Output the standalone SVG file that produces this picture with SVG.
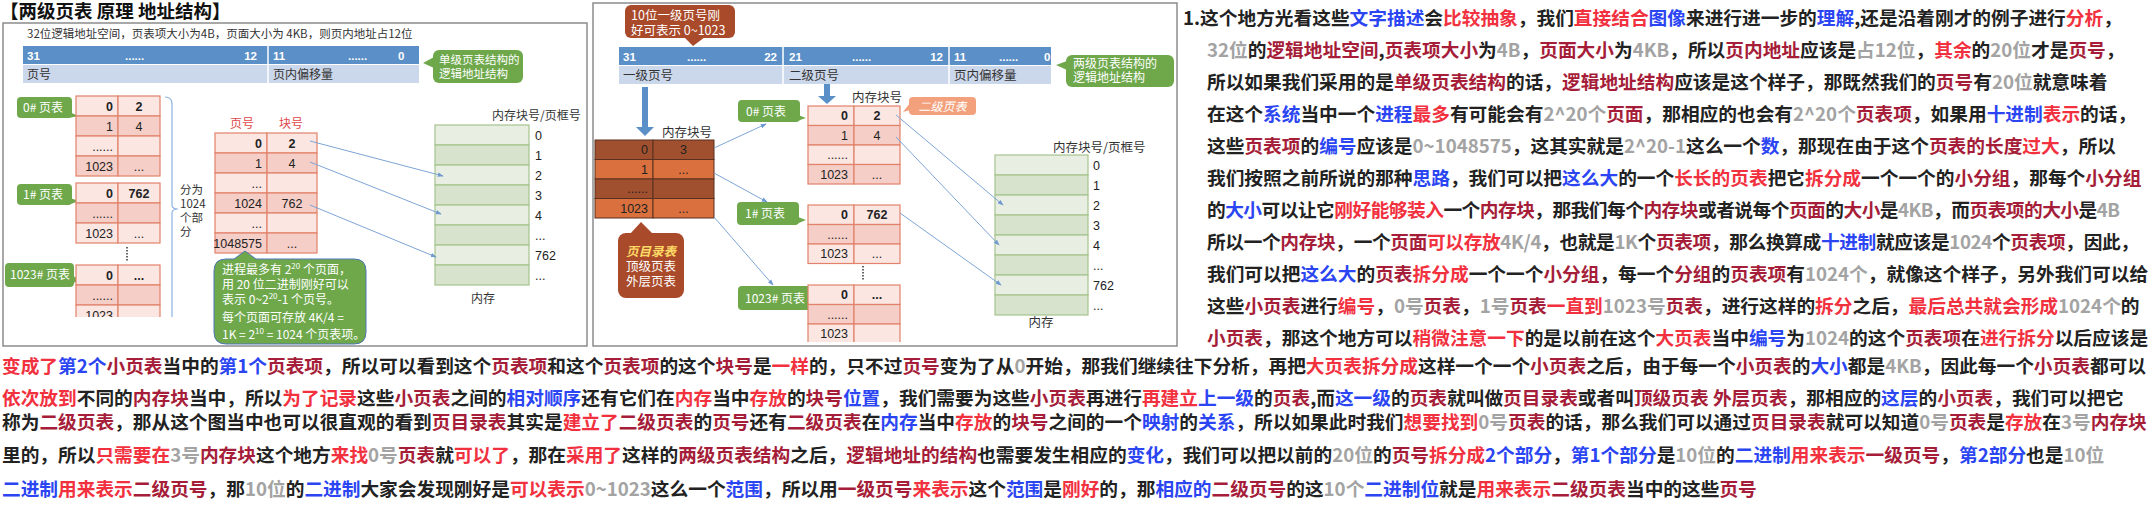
<svg xmlns="http://www.w3.org/2000/svg" width="2152" height="509" viewBox="0 0 2152 509">
<style>
.t{font-family:"Noto Sans CJK SC","Noto Sans",sans-serif;font-size:18.7px;font-weight:700;fill:#222}
.r{fill:#a51d38}.R{fill:#f2313f}.b{fill:#2b45f2}.g{fill:#a3a3a3}
.d{font-family:"Noto Sans CJK SC","Noto Sans",sans-serif;font-size:12px;fill:#333}
.w{fill:#fff}
.n{font-family:"Liberation Sans","Noto Sans CJK SC",sans-serif;font-size:12.5px;fill:#222}
.nb{font-weight:700}
.bt{font-family:"Liberation Sans",sans-serif;font-size:11.5px;font-weight:700;fill:#fff}
.bar{fill:#5b8fc7}.row{fill:#cbd7ea}
.pk1{fill:#fbe6e2;stroke:#e2826a;stroke-width:1.2}.pk2{fill:#f4cec7;stroke:#e2826a;stroke-width:1.2}
.gm1{fill:#e8eee1;stroke:#a6c48e;stroke-width:1.2}.gm2{fill:#d7e3cc;stroke:#a6c48e;stroke-width:1.2}
.br1{fill:#a0502e;stroke:#5a3020}.br2{fill:#d9703e;stroke:#5a3020}
.cg{fill:#6ea84b}.cb{fill:#a94a2a}
.ln{stroke:#7ea5d6;stroke-width:1;fill:none;marker-end:url(#ah)}
.blk{fill:#5b8fc7}
</style>
<defs>
<marker id="ah" viewBox="0 0 8 8" refX="7" refY="4" markerWidth="6" markerHeight="6" orient="auto"><path d="M0,1 L8,4 L0,7 Z" fill="#6f99cf"/></marker>
<clipPath id="clipL"><rect x="0" y="0" width="590" height="317"/></clipPath>
<clipPath id="clipM"><rect x="590" y="0" width="600" height="342"/></clipPath>
</defs>
<rect width="2152" height="509" fill="#fff"/>

<!-- LEFT PANEL -->
<g id="left-panel">
<text x="0" y="18" style="font-family:'Noto Sans CJK SC',sans-serif;font-size:18.5px;font-weight:700;fill:#111">【两级页表 原理 地址结构】</text>
<rect x="3" y="23" width="584" height="323" fill="#fff" stroke="#8c8c8c" stroke-width="1.5"/>
<text class="d" x="27" y="37.5" style="font-size:11.5px">32位逻辑地址空间，页表项大小为4B，页面大小为 4KB，则页内地址占12位</text>
</g>

<g id="left-address">
<rect class="bar" x="23" y="46" width="396" height="18"/>
<rect class="row" x="23" y="65" width="396" height="18"/>
<line x1="268" y1="46" x2="268" y2="83" stroke="#fff" stroke-width="1.5"/>
<text class="bt" x="27" y="59.5">31</text>
<text class="bt" x="125" y="59.5">......</text>
<text class="bt" x="257" y="59.5" text-anchor="end">12</text>
<text class="bt" x="273" y="59.5">11</text>
<text class="bt" x="348" y="59.5">......</text>
<text class="bt" x="398" y="59.5">0</text>
<text class="d" x="27" y="78.5">页号</text>
<text class="d" x="273" y="78.5">页内偏移量</text>
</g>

<g id="left-callout-single">
<rect class="cg" x="433" y="50" width="90" height="33" rx="6"/>
<polygon class="cg" points="434,57 423,63 434,68"/>
<text class="d w" x="439" y="63.5" style="font-size:11.5px">单级页表结构的</text>
<text class="d w" x="439" y="78" style="font-size:11.5px">逻辑地址结构</text>
</g>

<g id="left-pt0-label">
<rect class="cg" x="17" y="97" width="55" height="21" rx="4"/>
<polygon class="cg" points="64,110 79,116 68,118"/>
<text class="d w" x="23" y="111.5">0# 页表</text>
</g>
<g id="left-pt0">
<rect class="pk1" x="76" y="96" width="42" height="20"/><rect class="pk1" x="118" y="96" width="42" height="20"/>
<rect class="pk2" x="76" y="116" width="42" height="20"/><rect class="pk2" x="118" y="116" width="42" height="20"/>
<rect class="pk1" x="76" y="136" width="42" height="20"/><rect class="pk1" x="118" y="136" width="42" height="20"/>
<rect class="pk2" x="76" y="156" width="42" height="20"/><rect class="pk2" x="118" y="156" width="42" height="20"/>
<text class="n nb" x="113" y="110.5" text-anchor="end">0</text><text class="n nb" x="139" y="110.5" text-anchor="middle">2</text>
<text class="n" x="113" y="130.5" text-anchor="end">1</text><text class="n" x="139" y="130.5" text-anchor="middle">4</text>
<text class="n" x="113" y="150.5" text-anchor="end">......</text>
<text class="n" x="113" y="170.5" text-anchor="end">1023</text><text class="n" x="139" y="170.5" text-anchor="middle">...</text>
</g>

<g id="left-pt1-label">
<rect class="cg" x="17" y="184" width="55" height="21" rx="4"/>
<polygon class="cg" points="64,196 79,201 68,205"/>
<text class="d w" x="23" y="198.5">1# 页表</text>
</g>
<g id="left-pt1">
<rect class="pk1" x="76" y="183" width="42" height="20"/><rect class="pk1" x="118" y="183" width="42" height="20"/>
<rect class="pk2" x="76" y="203" width="42" height="20"/><rect class="pk2" x="118" y="203" width="42" height="20"/>
<rect class="pk1" x="76" y="223" width="42" height="20"/><rect class="pk1" x="118" y="223" width="42" height="20"/>
<text class="n nb" x="113" y="197.5" text-anchor="end">0</text><text class="n nb" x="139" y="197.5" text-anchor="middle">762</text>
<text class="n" x="113" y="217.5" text-anchor="end">......</text>
<text class="n" x="113" y="237.5" text-anchor="end">1023</text><text class="n" x="139" y="237.5" text-anchor="middle">...</text>
</g>
<line x1="127" y1="247" x2="127" y2="262" stroke="#333" stroke-width="1.5" stroke-dasharray="1.5,1.5"/>

<g id="left-pt1023-label">
<rect class="cg" x="5" y="263" width="69" height="24" rx="4"/>
<polygon class="cg" points="68,274 82,280 70,284"/>
<text class="d w" x="10" y="279">1023# 页表</text>
</g>
<g id="left-pt1023" clip-path="url(#clipL)">
<rect class="pk1" x="76" y="265" width="42" height="20"/><rect class="pk1" x="118" y="265" width="42" height="20"/>
<rect class="pk2" x="76" y="285" width="42" height="20"/><rect class="pk2" x="118" y="285" width="42" height="20"/>
<rect class="pk1" x="76" y="305" width="42" height="20"/><rect class="pk1" x="118" y="305" width="42" height="20"/>
<text class="n nb" x="113" y="279.5" text-anchor="end">0</text><text class="n nb" x="139" y="279.5" text-anchor="middle">...</text>
<text class="n" x="113" y="299.5" text-anchor="end">......</text>
<text class="n" x="113" y="320" text-anchor="end">1023</text>
</g>

<g id="left-brace">
<path d="M165,97 Q172,97 172,104 V205 Q172,209 178,209 Q172,209 172,213 V317" fill="none" stroke="#8db3e2" stroke-width="1.2"/>
<text class="d" x="180" y="194" style="font-size:11.5px">分为</text>
<text class="d" x="180" y="208" style="font-size:11.5px">1024</text>
<text class="d" x="180" y="222" style="font-size:11.5px">个部</text>
<text class="d" x="180" y="236" style="font-size:11.5px">分</text>
</g>

<g id="left-bigtable">
<text class="d" x="242" y="128" text-anchor="middle" style="fill:#e0474a">页号</text>
<text class="d" x="291" y="128" text-anchor="middle" style="fill:#e0474a">块号</text>
<rect class="pk1" x="215" y="133" width="52" height="20"/><rect class="pk1" x="267" y="133" width="50" height="20"/>
<rect class="pk2" x="215" y="153" width="52" height="20"/><rect class="pk2" x="267" y="153" width="50" height="20"/>
<rect class="pk1" x="215" y="173" width="52" height="20"/><rect class="pk1" x="267" y="173" width="50" height="20"/>
<rect class="pk2" x="215" y="193" width="52" height="20"/><rect class="pk2" x="267" y="193" width="50" height="20"/>
<rect class="pk1" x="215" y="213" width="52" height="20"/><rect class="pk1" x="267" y="213" width="50" height="20"/>
<rect class="pk2" x="215" y="233" width="52" height="20"/><rect class="pk2" x="267" y="233" width="50" height="20"/>
<text class="n nb" x="262" y="147.5" text-anchor="end">0</text><text class="n nb" x="292" y="147.5" text-anchor="middle">2</text>
<text class="n" x="262" y="167.5" text-anchor="end">1</text><text class="n" x="292" y="167.5" text-anchor="middle">4</text>
<text class="n" x="262" y="187.5" text-anchor="end">...</text>
<text class="n" x="262" y="207.5" text-anchor="end">1024</text><text class="n" x="292" y="207.5" text-anchor="middle">762</text>
<text class="n" x="262" y="227.5" text-anchor="end">...</text>
<text class="n" x="262" y="247.5" text-anchor="end">1048575</text><text class="n" x="292" y="247.5" text-anchor="middle">...</text>
</g>

<g id="left-memory">
<text class="d" x="492" y="120">内存块号/页框号</text>
<rect class="gm1" x="435" y="125" width="94" height="20"/>
<rect class="gm2" x="435" y="145" width="94" height="20"/>
<rect class="gm1" x="435" y="165" width="94" height="20"/>
<rect class="gm2" x="435" y="185" width="94" height="20"/>
<rect class="gm1" x="435" y="205" width="94" height="20"/>
<rect class="gm2" x="435" y="225" width="94" height="20"/>
<rect class="gm1" x="435" y="245" width="94" height="20"/>
<rect class="gm2" x="435" y="265" width="94" height="20"/>
<text class="n" x="535" y="139.5">0</text>
<text class="n" x="535" y="159.5">1</text>
<text class="n" x="535" y="179.5">2</text>
<text class="n" x="535" y="199.5">3</text>
<text class="n" x="535" y="219.5">4</text>
<text class="n" x="535" y="239.5">...</text>
<text class="n" x="535" y="259.5">762</text>
<text class="n" x="535" y="279.5">...</text>
<text class="d" x="483" y="303" text-anchor="middle">内存</text>
</g>

<g id="left-callout-note">
<path d="M226,259 L234,259 L245,251 L256,259 L354,259 Q366,259 366,271 L366,332 Q366,344 354,344 L226,344 Q214,344 214,332 L214,271 Q214,259 226,259 Z" fill="#6ea84b" stroke="#4f77b8" stroke-width="1"/>
<text class="d w" x="222" y="274">进程最多有 2<tspan font-size="8" dy="-5">20</tspan><tspan dy="5"> 个页面，</tspan></text>
<text class="d w" x="222" y="289">用 20 位二进制刚好可以</text>
<text class="d w" x="222" y="304">表示 0~2<tspan font-size="8" dy="-5">20</tspan><tspan dy="5">-1 个页号。</tspan></text>
<text class="d w" x="222" y="322">每个页面可存放 4K/4 =</text>
<text class="d w" x="222" y="339">1K = 2<tspan font-size="8" dy="-5">10</tspan><tspan dy="5"> = 1024 个页表项。</tspan></text>
</g>

<!-- MIDDLE PANEL -->
<g id="middle-panel">
<rect x="593" y="3" width="584" height="343" fill="#fff" stroke="#8c8c8c" stroke-width="1.5"/>
</g>

<g id="mid-callout-10bit">
<rect class="cb" x="625" y="5" width="110" height="33" rx="6"/>
<polygon class="cb" points="684,37 693,46 705,37"/>
<text class="d w" x="631" y="20" style="font-size:12.5px">10位一级页号刚</text>
<text class="d w" x="631" y="35" style="font-size:12.5px">好可表示 0~1023</text>
</g>

<g id="mid-address">
<rect class="bar" x="619" y="47" width="432" height="18"/>
<rect class="row" x="619" y="66" width="432" height="18"/>
<line x1="783" y1="47" x2="783" y2="84" stroke="#fff" stroke-width="1.5"/>
<line x1="949" y1="47" x2="949" y2="84" stroke="#fff" stroke-width="1.5"/>
<text class="bt" x="623" y="60.5">31</text>
<text class="bt" x="687" y="60.5">......</text>
<text class="bt" x="777" y="60.5" text-anchor="end">22</text>
<text class="bt" x="789" y="60.5">21</text>
<text class="bt" x="852" y="60.5">......</text>
<text class="bt" x="943" y="60.5" text-anchor="end">12</text>
<text class="bt" x="954" y="60.5">11</text>
<text class="bt" x="999" y="60.5">......</text>
<text class="bt" x="1044" y="60.5">0</text>
<text class="d" x="623" y="79.5" style="font-size:12.5px">一级页号</text>
<text class="d" x="789" y="79.5" style="font-size:12.5px">二级页号</text>
<text class="d" x="954" y="79.5" style="font-size:12.5px">页内偏移量</text>
</g>

<g id="mid-callout-two">
<rect class="cg" x="1066" y="55" width="108" height="32" rx="6"/>
<polygon class="cg" points="1067,61 1056,65 1067,70"/>
<text class="d w" x="1073" y="67.5">两级页表结构的</text>
<text class="d w" x="1073" y="82">逻辑地址结构</text>
</g>

<g id="mid-block-arrows">
<rect class="blk" x="642" y="87" width="6" height="41"/>
<polygon class="blk" points="636,127 654,127 645,136"/>
<rect class="blk" x="824" y="84" width="6" height="13"/>
<polygon class="blk" points="818,96 836,96 827,104"/>
</g>

<g id="mid-directory">
<text class="d" x="662" y="137" style="font-size:12.5px">内存块号</text>
<rect class="br1" x="595" y="140" width="58" height="19.5"/><rect class="br1" x="653" y="140" width="61" height="19.5"/>
<rect class="br2" x="595" y="159.5" width="58" height="19.5"/><rect class="br2" x="653" y="159.5" width="61" height="19.5"/>
<rect class="br1" x="595" y="179" width="58" height="19.5"/><rect class="br1" x="653" y="179" width="61" height="19.5"/>
<rect class="br2" x="595" y="198.5" width="58" height="19.5"/><rect class="br2" x="653" y="198.5" width="61" height="19.5"/>
<text class="n w" x="648" y="154.2" text-anchor="end">0</text><text class="n w" x="683.5" y="154.2" text-anchor="middle">3</text>
<text class="n w" x="648" y="173.7" text-anchor="end">1</text><text class="n w" x="683.5" y="173.7" text-anchor="middle">...</text>
<text class="n w" x="648" y="193.2" text-anchor="end">......</text>
<text class="n w" x="648" y="212.7" text-anchor="end">1023</text><text class="n w" x="683.5" y="212.7" text-anchor="middle">...</text>
</g>

<g id="mid-callout-dir">
<rect class="cb" x="618" y="233" width="66" height="65" rx="8"/>
<polygon class="cb" points="630,234 641,222 653,234"/>
<text class="d" x="651" y="256" text-anchor="middle" style="fill:#ffd966;font-style:italic;font-weight:700;font-size:12.5px">页目录表</text>
<text class="d w" x="651" y="271" text-anchor="middle" style="font-size:12.5px">顶级页表</text>
<text class="d w" x="651" y="286" text-anchor="middle" style="font-size:12.5px">外层页表</text>
</g>

<g id="mid-pt0-label">
<rect class="cg" x="738" y="100" width="62" height="22" rx="4"/>
<polygon class="cg" points="790,112 806,118 794,122"/>
<text class="d w" x="746" y="115.5">0# 页表</text>
</g>
<g id="mid-callout-level2">
<rect x="909" y="97" width="67" height="18" rx="4" fill="#f3a07c"/>
<polygon points="910,103 903,112 910,110" fill="#f3a07c"/>
<text class="d w" x="942.5" y="110.5" text-anchor="middle" style="font-style:italic">二级页表</text>
</g>
<g id="mid-pt0">
<text class="d" x="852" y="102" style="font-size:12.5px">内存块号</text>
<rect class="pk1" x="808" y="106" width="46" height="19.5"/><rect class="pk1" x="854" y="106" width="46" height="19.5"/>
<rect class="pk2" x="808" y="125.5" width="46" height="19.5"/><rect class="pk2" x="854" y="125.5" width="46" height="19.5"/>
<rect class="pk1" x="808" y="145" width="46" height="19.5"/><rect class="pk1" x="854" y="145" width="46" height="19.5"/>
<rect class="pk2" x="808" y="164.5" width="46" height="19.5"/><rect class="pk2" x="854" y="164.5" width="46" height="19.5"/>
<text class="n nb" x="848" y="120.2" text-anchor="end">0</text><text class="n nb" x="877" y="120.2" text-anchor="middle">2</text>
<text class="n" x="848" y="139.7" text-anchor="end">1</text><text class="n" x="877" y="139.7" text-anchor="middle">4</text>
<text class="n" x="848" y="159.2" text-anchor="end">......</text>
<text class="n" x="848" y="178.7" text-anchor="end">1023</text><text class="n" x="877" y="178.7" text-anchor="middle">...</text>
</g>

<g id="mid-pt1-label">
<rect class="cg" x="737" y="202" width="62" height="23" rx="4"/>
<polygon class="cg" points="790,214 806,220 794,225"/>
<text class="d w" x="745" y="218">1# 页表</text>
</g>
<g id="mid-pt1">
<rect class="pk1" x="808" y="205" width="46" height="19.5"/><rect class="pk1" x="854" y="205" width="46" height="19.5"/>
<rect class="pk2" x="808" y="224.5" width="46" height="19.5"/><rect class="pk2" x="854" y="224.5" width="46" height="19.5"/>
<rect class="pk1" x="808" y="244" width="46" height="19.5"/><rect class="pk1" x="854" y="244" width="46" height="19.5"/>
<text class="n nb" x="848" y="219.2" text-anchor="end">0</text><text class="n nb" x="877" y="219.2" text-anchor="middle">762</text>
<text class="n" x="848" y="238.7" text-anchor="end">......</text>
<text class="n" x="848" y="258.2" text-anchor="end">1023</text><text class="n" x="877" y="258.2" text-anchor="middle">...</text>
</g>
<line x1="863" y1="266" x2="863" y2="281" stroke="#333" stroke-width="1.5" stroke-dasharray="1.5,1.5"/>

<g id="mid-pt1023-label">
<rect class="cg" x="738" y="286" width="75" height="24" rx="4"/>
<polygon class="cg" points="805,296 821,303 808,307"/>
<text class="d w" x="745" y="302.5">1023# 页表</text>
</g>
<g id="mid-pt1023" clip-path="url(#clipM)">
<rect class="pk1" x="808" y="285" width="46" height="19.5"/><rect class="pk1" x="854" y="285" width="46" height="19.5"/>
<rect class="pk2" x="808" y="304.5" width="46" height="19.5"/><rect class="pk2" x="854" y="304.5" width="46" height="19.5"/>
<rect class="pk1" x="808" y="324" width="46" height="19.5"/><rect class="pk1" x="854" y="324" width="46" height="19.5"/>
<text class="n nb" x="848" y="299.2" text-anchor="end">0</text><text class="n nb" x="877" y="299.2" text-anchor="middle">...</text>
<text class="n" x="848" y="318.7" text-anchor="end">......</text>
<text class="n" x="848" y="338.2" text-anchor="end">1023</text>
</g>

<g id="mid-memory">
<text class="d" x="1053" y="151.5" style="font-size:12.5px">内存块号/页框号</text>
<rect class="gm1" x="995" y="155" width="93" height="20"/>
<rect class="gm2" x="995" y="175" width="93" height="20"/>
<rect class="gm1" x="995" y="195" width="93" height="20"/>
<rect class="gm2" x="995" y="215" width="93" height="20"/>
<rect class="gm1" x="995" y="235" width="93" height="20"/>
<rect class="gm2" x="995" y="255" width="93" height="20"/>
<rect class="gm1" x="995" y="275" width="93" height="20"/>
<rect class="gm2" x="995" y="295" width="93" height="20"/>
<text class="n" x="1093" y="169.5">0</text>
<text class="n" x="1093" y="189.5">1</text>
<text class="n" x="1093" y="209.5">2</text>
<text class="n" x="1093" y="229.5">3</text>
<text class="n" x="1093" y="249.5">4</text>
<text class="n" x="1093" y="269.5">...</text>
<text class="n" x="1093" y="289.5">762</text>
<text class="n" x="1093" y="309.5">...</text>
<text class="d" x="1041" y="327" text-anchor="middle" style="font-size:12.5px">内存</text>
</g>

<g id="connectors">
<line class="ln" x1="310" y1="141" x2="443" y2="176"/>
<line class="ln" x1="310" y1="162" x2="441" y2="214"/>
<line class="ln" x1="310" y1="205" x2="436" y2="257"/>
<line class="ln" x1="714" y1="148" x2="766" y2="124"/>
<line class="ln" x1="714" y1="173" x2="767" y2="202"/>
<line class="ln" x1="714" y1="217" x2="773" y2="285"/>
<line class="ln" x1="896" y1="115" x2="1003" y2="205"/>
<line class="ln" x1="896" y1="137" x2="999" y2="245"/>
<line class="ln" x1="900" y1="213" x2="1001" y2="285"/>
</g>

<!-- TEXT -->
<g id="narration">
<text class="t" x="1183" y="24.5">1.这个地方光看这些<tspan class="b">文字描述</tspan>会<tspan class="R">比较抽象</tspan>，我们<tspan class="R">直接结合</tspan><tspan class="b">图像</tspan>来进行进一步的<tspan class="b">理解</tspan>,还是沿着刚才的例子进行<tspan class="R">分析</tspan>，</text>
<text class="t" x="1207" y="56.5"><tspan class="g">32位</tspan>的<tspan class="r">逻辑地址空间</tspan>,<tspan class="r">页表项大小</tspan>为<tspan class="g">4B</tspan>，<tspan class="r">页面大小</tspan>为<tspan class="g">4KB</tspan>，所以<tspan class="r">页内地址</tspan>应该是<tspan class="g">占12位</tspan>，<tspan class="R">其余</tspan>的<tspan class="g">20位</tspan>才是<tspan class="r">页号</tspan>，</text>
<text class="t" x="1207" y="88.5">所以如果我们采用的是<tspan class="r">单级页表结构</tspan>的话，<tspan class="r">逻辑地址结构</tspan>应该是这个样子，那既然我们的<tspan class="r">页号</tspan>有<tspan class="g">20位</tspan>就意味着</text>
<text class="t" x="1207" y="120.5">在这个<tspan class="b">系统</tspan>当中一个<tspan class="b">进程</tspan><tspan class="R">最多</tspan>有可能会有<tspan class="g">2^20个</tspan><tspan class="r">页面</tspan>，那相应的也会有<tspan class="g">2^20个</tspan><tspan class="r">页表项</tspan>，如果用<tspan class="b">十进制</tspan><tspan class="R">表示</tspan>的话，</text>
<text class="t" x="1207" y="152.5">这些<tspan class="r">页表项</tspan>的<tspan class="b">编号</tspan>应该是<tspan class="g">0~1048575</tspan>，这其实就是<tspan class="g">2^20-1</tspan>这么一个<tspan class="b">数</tspan>，那现在由于这个<tspan class="r">页表的长度</tspan><tspan class="R">过大</tspan>，所以</text>
<text class="t" x="1207" y="184.5">我们按照之前所说的那种<tspan class="b">思路</tspan>，我们可以把<tspan class="b">这么大</tspan>的一个<tspan class="R">长长的页表</tspan>把它<tspan class="R">拆分成</tspan>一个一个的<tspan class="r">小分组</tspan>，那每个<tspan class="r">小分组</tspan></text>
<text class="t" x="1207" y="216.5" textLength="913" lengthAdjust="spacing">的<tspan class="b">大小</tspan>可以让它<tspan class="R">刚好能够装入</tspan>一个<tspan class="r">内存块</tspan>，那我们每个<tspan class="r">内存块</tspan>或者说每个<tspan class="r">页面</tspan>的<tspan class="r">大小</tspan>是<tspan class="g">4KB</tspan>，而<tspan class="r">页表项的大小</tspan>是<tspan class="g">4B</tspan></text>
<text class="t" x="1207" y="248.5" textLength="932" lengthAdjust="spacing">所以一个<tspan class="r">内存块</tspan>，一个<tspan class="r">页面</tspan><tspan class="R">可以存放</tspan><tspan class="g">4K/4</tspan>，也就是<tspan class="g">1K</tspan>个<tspan class="r">页表项</tspan>，那么换算成<tspan class="b">十进制</tspan>就应该是<tspan class="g">1024</tspan>个<tspan class="r">页表项</tspan>，因此，</text>
<text class="t" x="1207" y="280.5">我们可以把<tspan class="b">这么大</tspan>的<tspan class="r">页表</tspan><tspan class="R">拆分成</tspan>一个一个<tspan class="r">小分组</tspan>，每一个<tspan class="r">分组</tspan>的<tspan class="r">页表项</tspan>有<tspan class="g">1024个</tspan>，就像这个样子，另外我们可以给</text>
<text class="t" x="1207" y="312.5">这些<tspan class="r">小页表</tspan>进行<tspan class="R">编号</tspan>，<tspan class="g">0号</tspan><tspan class="r">页表</tspan>，<tspan class="g">1号</tspan><tspan class="r">页表</tspan><tspan class="R">一直到</tspan><tspan class="g">1023号</tspan><tspan class="r">页表</tspan>，进行这样的<tspan class="R">拆分</tspan>之后，<tspan class="R">最后总共就会形成</tspan><tspan class="g">1024个</tspan>的</text>
<text class="t" x="1207" y="344.5"><tspan class="r">小页表</tspan>，那这个地方可以<tspan class="R">稍微注意一下</tspan>的是以前在这个<tspan class="R">大页表</tspan>当中<tspan class="b">编号</tspan>为<tspan class="g">1024</tspan>的这个<tspan class="r">页表项</tspan>在<tspan class="R">进行拆分</tspan>以后应该是</text>
<text class="t" x="2" y="372.5"><tspan class="R">变成了</tspan><tspan class="b">第2个</tspan><tspan class="r">小页表</tspan>当中的<tspan class="b">第1个</tspan><tspan class="r">页表项</tspan>，所以可以看到这个<tspan class="r">页表项</tspan>和这个<tspan class="r">页表项</tspan>的这个<tspan class="r">块号</tspan>是<tspan class="R">一样</tspan>的，只不过<tspan class="r">页号</tspan>变为了从<tspan class="g">0</tspan>开始，那我们继续往下分析，再把<tspan class="R">大页表拆分成</tspan>这样一个一个<tspan class="r">小页表</tspan>之后，由于每一个<tspan class="r">小页表</tspan>的<tspan class="b">大小</tspan>都是<tspan class="g">4KB</tspan>，因此每一个<tspan class="r">小页表</tspan>都可以</text>
<text class="t" x="2" y="405"><tspan class="R">依次放到</tspan>不同的<tspan class="r">内存块</tspan>当中，所以<tspan class="R">为了记录</tspan>这些<tspan class="r">小页表</tspan>之间的<tspan class="b">相对顺序</tspan>还有它们在<tspan class="R">内存</tspan>当中<tspan class="R">存放</tspan>的<tspan class="r">块号</tspan><tspan class="b">位置</tspan>，我们需要为这些<tspan class="r">小页表</tspan>再进行<tspan class="R">再建立</tspan><tspan class="b">上一级</tspan>的<tspan class="r">页表</tspan>,而<tspan class="b">这一级</tspan>的<tspan class="r">页表</tspan>就叫做<tspan class="r">页目录表</tspan>或者叫<tspan class="r">顶级页表 外层页表</tspan>，那相应的<tspan class="b">这层</tspan>的<tspan class="r">小页表</tspan>，我们可以把它</text>
<text class="t" x="2" y="429">称为<tspan class="r">二级页表</tspan>，那从这个图当中也可以很直观的看到<tspan class="r">页目录表</tspan>其实是<tspan class="R">建立了</tspan><tspan class="r">二级页表</tspan>的<tspan class="r">页号</tspan>还有<tspan class="r">二级页表</tspan>在<tspan class="b">内存</tspan>当中<tspan class="R">存放</tspan>的<tspan class="r">块号</tspan>之间的一个<tspan class="b">映射</tspan>的<tspan class="b">关系</tspan>，所以如果此时我们<tspan class="R">想要找到</tspan><tspan class="g">0号</tspan><tspan class="r">页表</tspan>的话，那么我们可以通过<tspan class="r">页目录表</tspan>就可以知道<tspan class="g">0号</tspan><tspan class="r">页表</tspan>是<tspan class="R">存放</tspan>在<tspan class="g">3号</tspan><tspan class="r">内存块</tspan></text>
<text class="t" x="2" y="461.5">里的，所以<tspan class="R">只需要在</tspan><tspan class="g">3号</tspan><tspan class="r">内存块</tspan>这个地方<tspan class="R">来找</tspan><tspan class="g">0号</tspan><tspan class="r">页表</tspan>就<tspan class="R">可以了</tspan>，那在<tspan class="R">采用了</tspan>这样的<tspan class="r">两级页表结构</tspan>之后，<tspan class="r">逻辑地址的结构</tspan>也需要发生相应的<tspan class="b">变化</tspan>，我们可以把以前的<tspan class="g">20位</tspan>的<tspan class="r">页号</tspan><tspan class="R">拆分成</tspan><tspan class="b">2个部分</tspan>，<tspan class="b">第1个部分</tspan>是<tspan class="g">10位</tspan>的<tspan class="b">二进制</tspan><tspan class="R">用来表示</tspan><tspan class="r">一级页号</tspan>，<tspan class="b">第2部分</tspan>也是<tspan class="g">10位</tspan></text>
<text class="t" x="2" y="495.5"><tspan class="b">二进制</tspan><tspan class="R">用来表示</tspan><tspan class="r">二级页号</tspan>，那<tspan class="g">10位</tspan>的<tspan class="b">二进制</tspan>大家会发现刚好是<tspan class="R">可以表示</tspan><tspan class="g">0~1023</tspan>这么一个<tspan class="b">范围</tspan>，所以用<tspan class="r">一级页号</tspan><tspan class="R">来表示</tspan>这个<tspan class="b">范围</tspan>是<tspan class="R">刚好</tspan>的，那<tspan class="b">相应的</tspan><tspan class="r">二级页号</tspan>的这<tspan class="g">10个</tspan><tspan class="b">二进制位</tspan>就是<tspan class="R">用来表示</tspan><tspan class="r">二级页表</tspan>当中的这些<tspan class="r">页号</tspan></text>
</g>
</svg>
